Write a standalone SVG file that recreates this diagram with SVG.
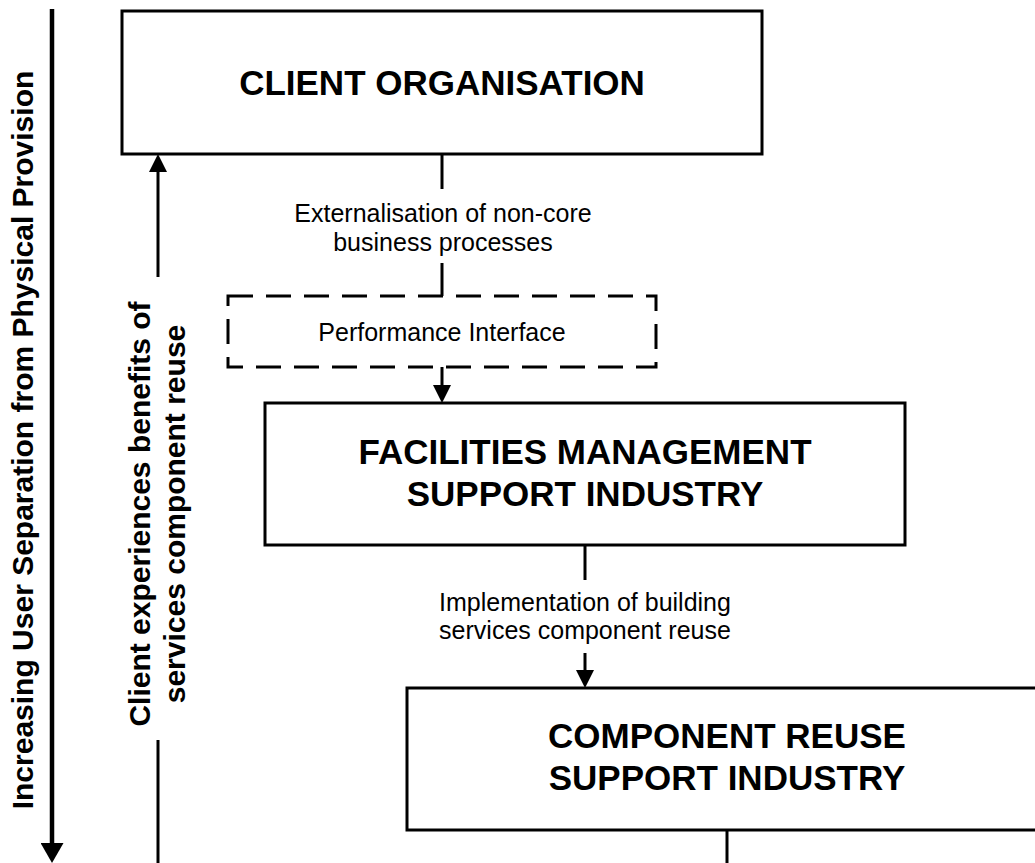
<svg xmlns="http://www.w3.org/2000/svg" width="1035" height="863" viewBox="0 0 1035 863">
<defs>
<style>
.box{fill:#fff;stroke:#000;stroke-width:3}
.dash{fill:#fff;stroke:#000;stroke-width:3;stroke-dasharray:25 13}
.ln{stroke:#000;stroke-width:3;fill:none}
.big{font-family:"Liberation Sans",Arial,sans-serif;font-weight:bold;font-size:35px;text-anchor:middle;fill:#000}
.lbl{font-family:"Liberation Sans",Arial,sans-serif;font-size:25px;text-anchor:middle;fill:#000}
.side{font-family:"Liberation Sans",Arial,sans-serif;font-weight:bold;font-size:30px;text-anchor:middle;fill:#000}
</style>
<marker id="ah" markerUnits="userSpaceOnUse" viewBox="0 0 18 18" markerWidth="18" markerHeight="18" refX="0" refY="9" orient="auto"><path d="M0,0 L18,9 L0,18 Z" fill="#000"/></marker>
<marker id="ahBig" markerUnits="userSpaceOnUse" viewBox="0 0 20 23" markerWidth="20" markerHeight="23" refX="0" refY="11.5" orient="auto"><path d="M0,0 L20,11.5 L0,23 Z" fill="#000"/></marker>
</defs>
<rect width="1035" height="863" fill="#fff"/>

<g id="axis-user-separation">
<line x1="52" y1="9" x2="52" y2="843" stroke="#000" stroke-width="4.5" marker-end="url(#ahBig)"/>
<text class="side" transform="translate(33,440) rotate(-90)">Increasing User Separation from Physical Provision</text>
</g>

<g id="client-organisation">
<rect class="box" x="122" y="11" width="640" height="143"/>
<text class="big" x="442" y="95">CLIENT ORGANISATION</text>
</g>

<g id="performance-interface">
<rect class="dash" x="228" y="296" width="428" height="71"/>
<text class="lbl" x="442" y="341">Performance Interface</text>
</g>

<g id="facilities-management">
<rect class="box" x="265" y="403" width="640" height="142"/>
<text class="big" x="585" y="464">FACILITIES MANAGEMENT</text>
<text class="big" x="585" y="506">SUPPORT INDUSTRY</text>
</g>

<g id="component-reuse">
<rect class="box" x="407" y="688" width="640" height="142"/>
<text class="big" x="727" y="748">COMPONENT REUSE</text>
<text class="big" x="727" y="790">SUPPORT INDUSTRY</text>
</g>

<g id="connectors">
<line class="ln" x1="442" y1="154" x2="442" y2="189"/>
<text class="lbl" x="443" y="222">Externalisation of non-core</text>
<text class="lbl" x="443" y="251">business processes</text>
<line class="ln" x1="442" y1="263" x2="442" y2="296"/>
<line class="ln" x1="442" y1="367" x2="442" y2="385" marker-end="url(#ah)"/>
<line class="ln" x1="585" y1="545" x2="585" y2="580"/>
<text class="lbl" x="585" y="611">Implementation of building</text>
<text class="lbl" x="585" y="639">services component reuse</text>
<line class="ln" x1="585" y1="653" x2="585" y2="670" marker-end="url(#ah)"/>
<line class="ln" x1="727" y1="830" x2="727" y2="863"/>
<line class="ln" x1="158" y1="277" x2="158" y2="172" marker-end="url(#ah)"/>
<line class="ln" x1="158" y1="740" x2="158" y2="863"/>
<text class="side" transform="translate(150,514) rotate(-90)">Client experiences benefits of</text>
<text class="side" transform="translate(185,514) rotate(-90)">services component reuse</text>
</g>
</svg>
